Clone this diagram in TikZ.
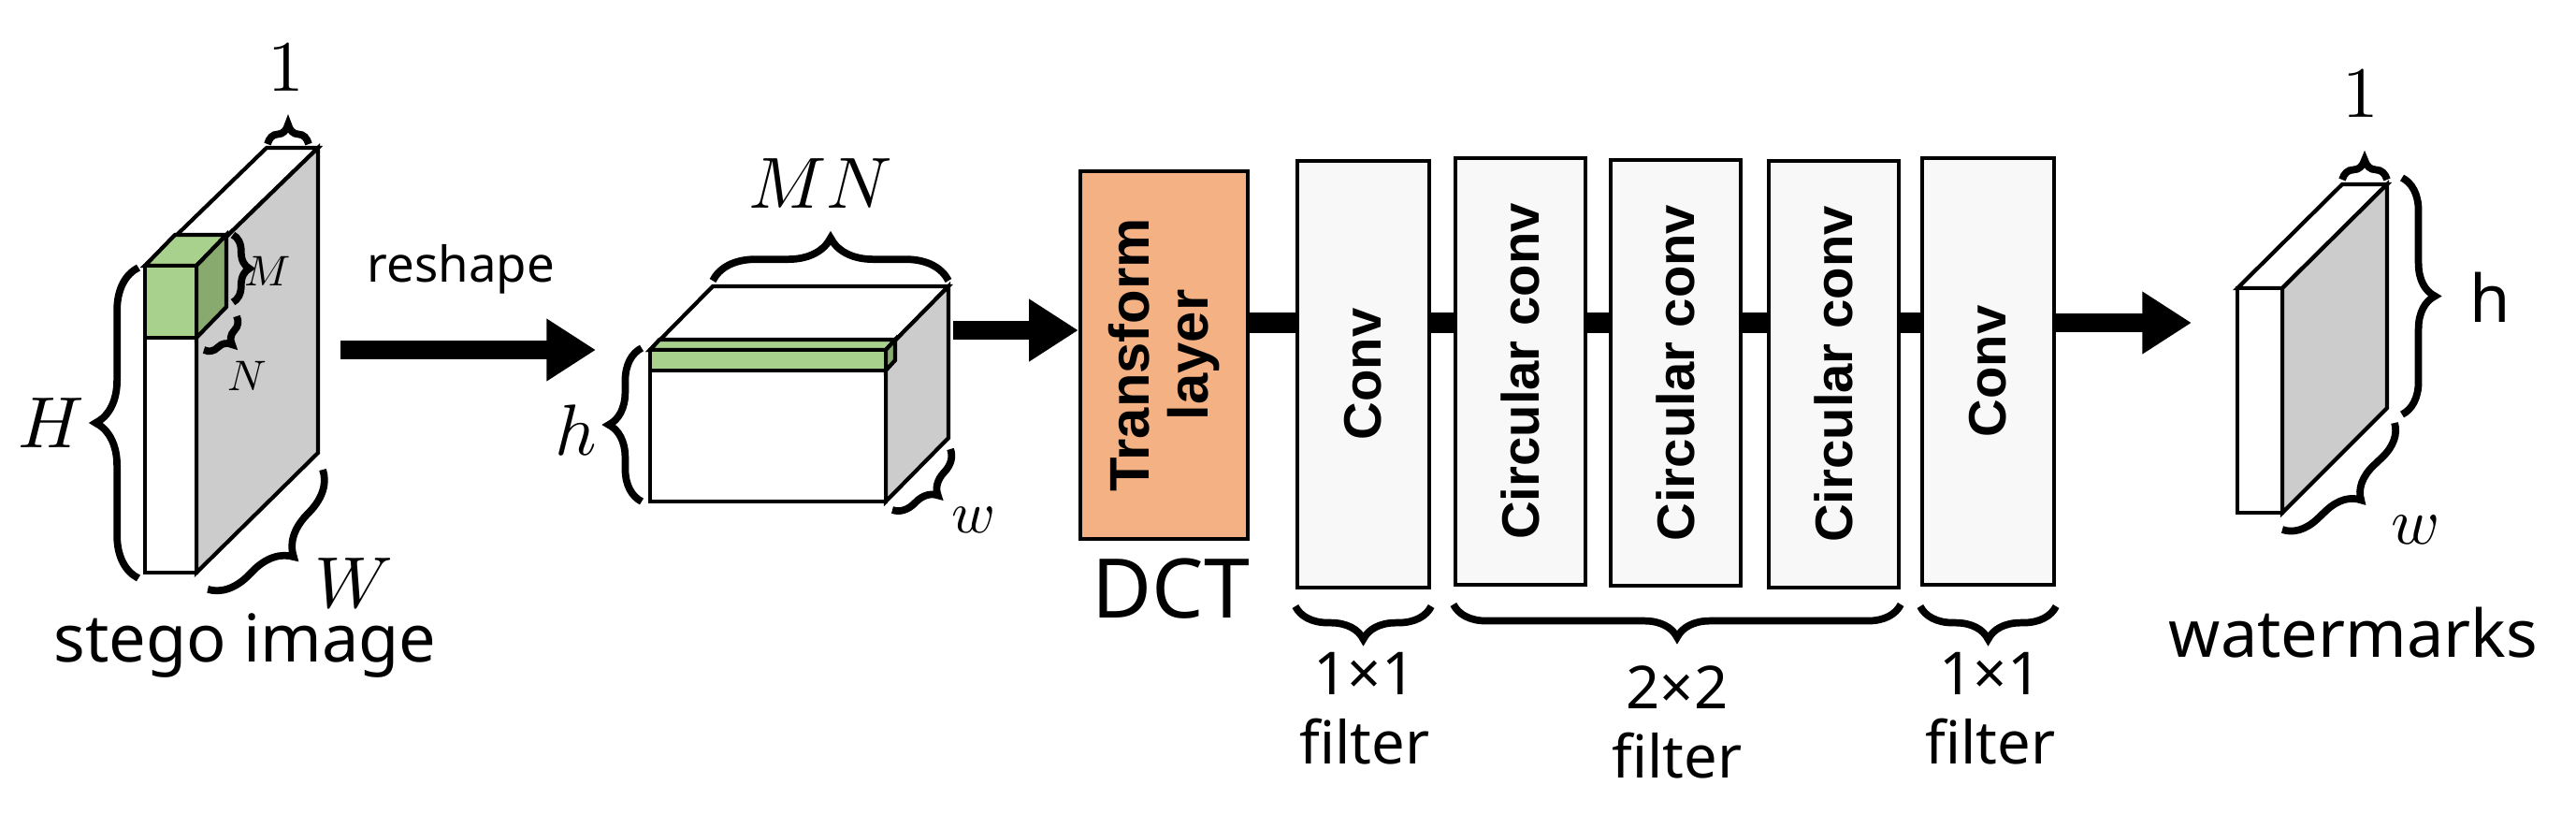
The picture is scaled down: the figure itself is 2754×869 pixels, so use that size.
\documentclass[tikz,border=0pt]{standalone}
\usepackage{fontspec}
\usepackage{unicode-math}
\setmainfont{Noto Sans}
\setmathfont{Latin Modern Math}
\newfontfamily\boxfont{Liberation Sans}
\usetikzlibrary{arrows.meta, positioning, decorations.pathreplacing}
\definecolor{slabgray}{HTML}{CCCCCC}
\definecolor{patchgreen}{HTML}{A9D18E}
\definecolor{patchside}{HTML}{88AA6E}
\definecolor{dctorange}{HTML}{F4B183}
\definecolor{layerfill}{HTML}{F8F8F8}
\tikzset{
  layer/.style = {rectangle, draw=black, fill=layerfill, line width=1.2pt, minimum width=1.39cm, minimum height=4.55cm, inner sep=0pt},
  layertext/.style = {rotate=90, font=\boxfont\bfseries\fontsize{16pt}{18pt}\selectfont, align=center},
  face/.style = {draw=black, line width=1.2pt, line join=miter},
  curly/.style = {decorate, decoration={brace, amplitude=#1}, line width=2.2pt},
  curly/.default = 10pt,
  arrow/.style = {line width=5.5pt, -{Triangle[length=15pt, width=18pt]}},
  link/.style = {line width=6pt},
  label/.style = {font=\fontsize{18pt}{21pt}\selectfont, align=center},
  mathlabel/.style = {font=\fontsize{22pt}{24pt}\selectfont}
}

\begin{document}
\begin{tikzpicture}[x=0.01cm, y=-0.01cm]
    \useasboundingbox (0,0) rectangle (2754,869);

    % stego image slab with green patch
    \draw[face, fill=white] (155,284) -- (285,158) -- (340,158) -- (210,284) -- cycle;
    \draw[face, fill=slabgray] (210,284) -- (340,158) -- (340,484) -- (210,612) -- cycle;
    \draw[face, fill=white] (155,284) rectangle (210,612);
    \draw[face, fill=patchgreen] (155,284) -- (187,251) -- (242,251) -- (210,284) -- cycle;
    \draw[face, fill=patchside] (210,284) -- (242,251) -- (242,328) -- (210,361) -- cycle;
    \draw[face, fill=patchgreen] (155,284) rectangle (210,361);
    \coordinate (stego) at (262,690);
    \node[label, font=\fontsize{20pt}{22pt}\selectfont] (stegolabel) at (stego) {stego image};

    \draw[curly=6pt] (286,154) -- (330,154);
    \node[mathlabel] (one1) at (306,72) {$1$};
    \draw[curly=5pt] (249,251) -- (249,323);
    \node[font=\fontsize{13pt}{14pt}\selectfont] (mlab) at (286,290) {$M$};
    \draw[curly=5pt] (253,338) -- (218,374);
    \node[font=\fontsize{13pt}{14pt}\selectfont] (nlab) at (264,402) {$N$};
    \draw[curly=13pt] (148,618) -- (148,286);
    \node[mathlabel] (hbig) at (55,452) {$H$};
    \draw[curly=12pt] (345,502) -- (222,630);
    \node[mathlabel] (wbig) at (378,624) {$W$};

    % reshape
    \coordinate (rsA) at (364,374);
    \coordinate (rsB) at (637,374);
    \draw[arrow] (rsA) -- (rsB);
    \node[label, font=\fontsize{15pt}{16pt}\selectfont] (reshape) at (493,288) {reshape};

    % reshaped block
    \draw[face, fill=white] (695,374) -- (762,306) -- (1014,306) -- (947,374) -- cycle;
    \draw[face, fill=slabgray] (947,374) -- (1014,306) -- (1014,468) -- (947,536) -- cycle;
    \draw[face, fill=white] (695,374) rectangle (947,536);
    \draw[face, fill=patchgreen] (695,374) -- (705,363) -- (957,363) -- (947,374) -- cycle;
    \draw[face, fill=patchside] (947,374) -- (957,363) -- (957,385) -- (947,396) -- cycle;
    \draw[face, fill=patchgreen] (695,374) rectangle (947,396);
    \draw[curly=13pt] (762,300) -- (1014,300);
    \node[mathlabel] (mnlab) at (877,196) {$MN$};
    \draw[curly=10pt] (686,536) -- (686,372);
    \node[mathlabel] (hsmall) at (616,460) {$h$};
    \draw[curly=7pt] (1016,480) -- (954,545);
    \node[font=\fontsize{18pt}{19pt}\selectfont] (wsmall) at (1040,556) {$w$};

    % network
    \coordinate (spine) at (0,345);
    \node[layer, fill=dctorange, minimum width=1.79cm, minimum height=3.93cm] (transform) at (1244.5,379.5) {};
    \node[layertext, font=\boxfont\bfseries\fontsize{17pt}{18pt}\selectfont] at (transform) {Transform\\layer};
    \node[label, font=\fontsize{25pt}{26pt}\selectfont] (dct) at (1252,629) {DCT};
    \node[layer, minimum width=1.41cm, minimum height=4.56cm] (conv1) at (1457.5,400) {};
    \node[layer] (circ1) at (1625.5,397) {};
    \node[layer] (circ2) at (1791.5,398.5) {};
    \node[layer] (circ3) at (1960.5,400) {};
    \node[layer, minimum width=1.41cm] (conv2) at (2125.5,397) {};
    \foreach \n/\t in {conv1/Conv, circ1/Circular conv, circ2/Circular conv, circ3/Circular conv, conv2/Conv}
      \node[layertext] at (\n) {\t};

    \draw[arrow] (1019,353) -- (transform.west |- 0,353);
    \foreach \a/\b in {transform/conv1, conv1/circ1, circ1/circ2, circ2/circ3, circ3/conv2}
      \draw[link] (\a.east |- spine) -- (\b.west |- spine);
    \coordinate (outend) at (2343,345);
    \draw[arrow] (conv2.east |- spine) -- (outend);

    % filter braces
    \draw[curly] (conv1.south east |- 0,648) -- (conv1.south west |- 0,648);
    \node[label] (f1) at (1459,757) {1×1\\filter};
    \draw[curly] (circ3.south east |- 0,646) -- (circ1.south west |- 0,646);
    \node[label] (f2) at (1793,772) {2×2\\filter};
    \draw[curly] (conv2.south east |- 0,648) -- (conv2.south west |- 0,648);
    \node[label] (f3) at (2128,757) {1×1\\filter};

    % watermarks slab
    \draw[face, fill=white] (2392,308) -- (2504,197) -- (2552,197) -- (2440,308) -- cycle;
    \draw[face, fill=slabgray] (2440,308) -- (2552,197) -- (2552,436) -- (2440,548) -- cycle;
    \draw[face, fill=white] (2392,308) rectangle (2440,548);
    \draw[curly=6pt] (2504,192) -- (2552,192);
    \node[mathlabel] (one2) at (2524,100) {$1$};
    \draw[curly=10pt] (2568,190) -- (2568,443);
    \node[label, font=\fontsize{20pt}{22pt}\selectfont] (hwm) at (2662,318) {h};
    \draw[curly=10pt] (2560,452) -- (2440,566);
    \node[font=\fontsize{20pt}{21pt}\selectfont] (wwm) at (2582,566) {$w$};
    \node[label, font=\fontsize{20pt}{22pt}\selectfont] (wmlabel) at (2516,676) {watermarks};
\end{tikzpicture}
\end{document}
